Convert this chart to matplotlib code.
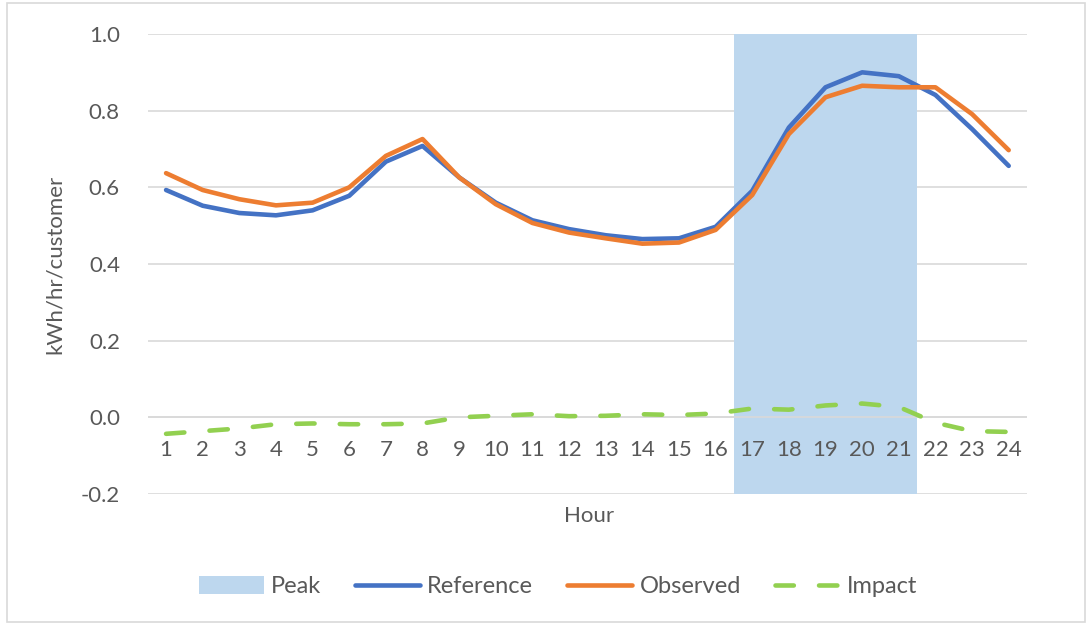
import matplotlib.pyplot as plt
import matplotlib.patches as mpatches
import numpy as np

plt.rcParams['font.family'] = ['Lato', 'DejaVu Sans']

hours = list(range(1, 25))
reference = [0.593, 0.552, 0.533, 0.527, 0.540, 0.578, 0.667, 0.708, 0.626, 0.560, 0.514, 0.491,
             0.475, 0.465, 0.467, 0.497, 0.591, 0.756, 0.861, 0.900, 0.890, 0.841, 0.752, 0.656]
observed = [0.637, 0.593, 0.569, 0.553, 0.560, 0.600, 0.682, 0.726, 0.626, 0.556, 0.507, 0.482,
            0.467, 0.453, 0.456, 0.489, 0.580, 0.739, 0.835, 0.865, 0.861, 0.861, 0.791, 0.697]
impact = [-0.043, -0.036, -0.029, -0.018, -0.016, -0.018, -0.018, -0.016, 0.0, 0.004, 0.008, 0.003,
          0.004, 0.008, 0.006, 0.010, 0.023, 0.020, 0.031, 0.036, 0.027, -0.014, -0.036, -0.038]
peak_hours = [17, 18, 19, 20, 21]
peak_top = 1.0
y_min, y_max = -0.2, 1.0
y_ticks = [-0.2, 0.0, 0.2, 0.4, 0.6, 0.8, 1.0]

grey = '#595959'
fig = plt.figure(figsize=(10.92, 6.25), dpi=100)
ax = fig.add_axes([0.1353, 0.2096, 0.8052, 0.736])

# gridlines under the peak band, zero line on top
for v in y_ticks:
    ax.axhline(v, color='#D9D9D9', lw=1.2, zorder=0.5)
ax.axhline(0, color='#D9D9D9', lw=1.2, zorder=2)

# peak band
peak = ax.bar(peak_hours, [peak_top - y_min] * len(peak_hours), bottom=y_min, width=1.0,
              color='#BDD7EE', zorder=1, label='Peak')

l1, = ax.plot(hours, reference, color='#4472C4', lw=3.3, solid_capstyle='round',
              solid_joinstyle='round', zorder=3, label='Reference')
l2, = ax.plot(hours, observed, color='#ED7D31', lw=3.3, solid_capstyle='round',
              solid_joinstyle='round', zorder=4, label='Observed')
l3, = ax.plot(hours, impact, color='#92D050', lw=3.3, linestyle=(0, (4, 5.5)),
              dash_capstyle='round', zorder=5, label='Impact')

ax.set_xlim(0.5, 24.5)
ax.set_ylim(y_min, y_max)
ax.set_yticks(y_ticks)
ax.set_yticklabels([f'{v:.1f}' for v in y_ticks])
ax.set_xticks(hours)
ax.set_xticklabels([str(h) for h in hours])
ax.set_axisbelow(False)
for s in ax.spines.values():
    s.set_visible(False)
ax.spines['bottom'].set_position(('data', 0))
ax.tick_params(axis='both', length=0, labelsize=16, labelcolor=grey)
ax.tick_params(axis='x', pad=16)
ax.tick_params(axis='y', pad=20)

ax.set_ylabel('kWh/hr/customer', fontsize=16, color=grey)
ax.yaxis.set_label_coords(-0.094, 0.5)
fig.text(0.539, 0.174, 'Hour', fontsize=16, color=grey, ha='center', va='center')

fig.legend([peak, l1, l2, l3], ['Peak', 'Reference', 'Observed', 'Impact'],
           loc='center', bbox_to_anchor=(0.511, 0.061), ncol=4, frameon=False,
           fontsize=17, labelcolor=grey, handlelength=2.75, handletextpad=0.3,
           columnspacing=1.45, handleheight=0.75)

fig.patches.append(mpatches.Rectangle((0.006, 0.005), 0.988, 0.99, transform=fig.transFigure,
                                      fill=False, edgecolor='#D9D9D9', lw=1.2))

fig.savefig('out.png', dpi=100)
